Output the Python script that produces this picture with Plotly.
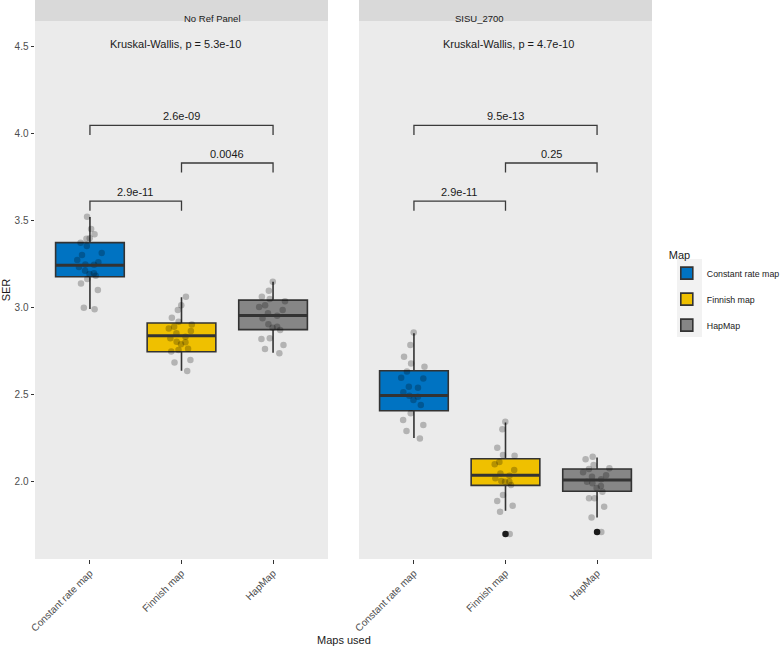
import plotly.graph_objects as go

# ---------------- data ----------------
categories = ["Constant rate map", "Finnish map", "HapMap"]
panels = ["No Ref Panel", "SISU_2700"]
fill_colors = ["#0073C2", "#EFC000", "#868686"]

# box statistics per panel (order = categories)
noref_lower = [2.989, 2.634, 2.737]
noref_q1 = [3.174, 2.743, 2.870]
noref_median = [3.240, 2.835, 2.952]
noref_q3 = [3.370, 2.908, 3.040]
noref_upper = [3.517, 3.056, 3.145]

sisu_lower = [2.247, 1.829, 1.791]
sisu_q1 = [2.404, 1.975, 1.941]
sisu_median = [2.492, 2.033, 2.006]
sisu_q3 = [2.634, 2.128, 2.069]
sisu_upper = [2.849, 2.337, 2.136]

sisu_outlier_cat = [2, 3]
sisu_outlier_val = [1.695, 1.707]

# individual SER observations (read from the jittered points)
noref_const = [3.519, 3.448, 3.418, 3.395, 3.392, 3.351, 3.299, 3.257, 3.245, 3.243, 3.209, 3.194,
               3.190, 3.161, 3.136, 3.098, 2.996, 2.987, 3.27, 3.23, 3.31, 3.18, 3.37]
noref_finn = [3.059, 3.011, 2.983, 2.939, 2.916, 2.887, 2.877, 2.862, 2.820, 2.801, 2.797, 2.786,
              2.753, 2.744, 2.695, 2.682, 2.632, 2.85, 2.90, 2.83, 2.76]
noref_hap = [3.145, 3.094, 3.059, 3.046, 3.034, 3.011, 2.983, 2.964, 2.935, 2.901, 2.887, 2.881,
             2.868, 2.820, 2.816, 2.782, 2.759, 2.734, 2.95, 3.00]
sisu_const = [2.854, 2.782, 2.715, 2.676, 2.657, 2.594, 2.590, 2.542, 2.536, 2.490, 2.485, 2.466,
              2.437, 2.389, 2.351, 2.322, 2.287, 2.245, 2.63, 2.51]
sisu_finn = [2.341, 2.297, 2.191, 2.149, 2.146, 2.096, 2.063, 2.044, 2.016, 1.996, 1.996, 1.977,
             1.920, 1.885, 1.858, 1.824, 1.695, 2.03, 2.11, 2.00]
sisu_hap = [2.140, 2.126, 2.092, 2.069, 2.073, 2.034, 2.025, 1.996, 1.987, 1.971, 1.939, 1.901,
            1.901, 1.853, 1.791, 1.707, 2.05, 2.01, 1.96]

# pairwise comparisons (category positions), bracket heights and labels
comparisons = [(1, 2), (2, 3), (1, 3)]
bracket_y = [3.609, 3.828, 4.044]
noref_pvals = ["2.9e-11", "0.0046", "2.6e-09"]
sisu_pvals = ["2.9e-11", "0.25", "9.5e-13"]

kw_labels = ["Kruskal-Wallis, p = 5.3e-10", "Kruskal-Wallis, p = 4.7e-10"]
kw_x = [1.936, 2.03]
kw_y = 4.51

y_ticks = [2.0, 2.5, 3.0, 3.5, 4.0, 4.5]
y_range = [1.552, 4.644]

# ---------------- figure ----------------
FONT = "Liberation Sans, Arial, Helvetica, sans-serif"
W, H = 780, 647
ML, MR, MT, MB = 35, 128, 0, 88
plot_w = W - ML - MR
plot_h = H - MT - MB
strip_h = 21
left_dom = [0, 293 / plot_w]
right_dom = [(359 - ML) / plot_w, 1]
y_top = 1 - strip_h / plot_h

fig = go.Figure()

panel_stats = [
    (noref_lower, noref_q1, noref_median, noref_q3, noref_upper),
    (sisu_lower, sisu_q1, sisu_median, sisu_q3, sisu_upper),
]
panel_points = [[noref_const, noref_finn, noref_hap], [sisu_const, sisu_finn, sisu_hap]]
panel_pvals = [noref_pvals, sisu_pvals]
axes = [("x", "y"), ("x2", "y2")]
BOXW = 0.75
LINE = "#333333"

for p, (xa, ya) in enumerate(axes):
    lo, q1, med, q3, up = panel_stats[p]
    for i, cat in enumerate(categories):
        pos = i + 1
        fig.add_trace(go.Box(
            x=[pos], q1=[q1[i]], median=[med[i]], q3=[q3[i]],
            lowerfence=[lo[i]], upperfence=[up[i]],
            name=cat, legendgroup=cat, showlegend=(p == 0),
            fillcolor=fill_colors[i], line=dict(color=LINE, width=1.6),
            whiskerwidth=0, width=BOXW, xaxis=xa, yaxis=ya, hoverinfo="skip",
        ))
        # thicker median line
        fig.add_trace(go.Scatter(
            x=[pos - BOXW / 2, pos + BOXW / 2], y=[med[i], med[i]], mode="lines",
            line=dict(color=LINE, width=3), showlegend=False, hoverinfo="skip",
            xaxis=xa, yaxis=ya,
        ))

# outliers (right panel)
fig.add_trace(go.Scatter(
    x=sisu_outlier_cat, y=sisu_outlier_val, mode="markers",
    marker=dict(color="#1a1a1a", size=6.5), showlegend=False, hoverinfo="skip",
    xaxis="x2", yaxis="y2",
))

# jittered observations
for p, (xa, ya) in enumerate(axes):
    for i, cat in enumerate(categories):
        vals = panel_points[p][i]
        fig.add_trace(go.Box(
            x=[i + 1] * len(vals), y=vals, boxpoints="all", jitter=0.45, pointpos=0,
            fillcolor="rgba(0,0,0,0)", line=dict(color="rgba(0,0,0,0)", width=0),
            marker=dict(color="rgba(0,0,0,0.24)", size=6.5, line=dict(width=0)),
            width=BOXW, showlegend=False, hoverinfo="skip", xaxis=xa, yaxis=ya,
        ))

annotations = []
# brackets and p-values
for p, (xa, ya) in enumerate(axes):
    for (a, b), yb, lab in zip(comparisons, bracket_y, panel_pvals[p]):
        fig.add_trace(go.Scatter(
            x=[a, a, b, b], y=[yb - 0.055, yb, yb, yb - 0.055], mode="lines",
            line=dict(color="#3a3a3a", width=1.3), showlegend=False, hoverinfo="skip",
            xaxis=xa, yaxis=ya,
        ))
        annotations.append(dict(
            x=(a + b) / 2, y=yb, xref=xa, yref=ya, text=lab, showarrow=False,
            yanchor="bottom", yshift=1, font=dict(family=FONT, size=11, color="#1a1a1a"),
        ))
    annotations.append(dict(
        x=kw_x[p], y=kw_y, xref=xa, yref=ya, text=kw_labels[p], showarrow=False,
        font=dict(family=FONT, size=11, color="#1a1a1a"),
    ))

# strips
shapes = []
for p, dom in enumerate([left_dom, right_dom]):
    shapes.append(dict(type="rect", xref="paper", yref="paper", x0=dom[0], x1=dom[1],
                       y0=y_top, y1=1, fillcolor="#D9D9D9", line=dict(width=0), layer="below"))
    annotations.append(dict(x=(dom[0] + dom[1]) / 2, y=(y_top + 1) / 2, xref="paper", yref="paper",
                            text=panels[p], showarrow=False,
                            font=dict(family=FONT, size=9.5, color="#1a1a1a")))

# legend key background
shapes.append(dict(type="rect", xref="paper", yref="paper",
                   x0=(677 - ML) / plot_w, x1=(702 - ML) / plot_w,
                   y0=1 - 337 / plot_h, y1=1 - 259 / plot_h,
                   fillcolor="#F2F2F2", line=dict(width=0), layer="below"))

# x axis title
annotations.append(dict(x=0.5, y=-(640 - plot_h) / plot_h, xref="paper", yref="paper",
                        text="Maps used", showarrow=False, yanchor="middle",
                        font=dict(family=FONT, size=11, color="#1a1a1a")))

xaxis_common = dict(
    range=[0.4, 3.6], tickmode="array", tickvals=[1, 2, 3], ticktext=categories,
    tickangle=-45, ticks="outside", ticklen=3.5, tickcolor="#333333", tickwidth=1.1,
    showgrid=False, zeroline=False, showline=False, automargin=False,
    tickfont=dict(family=FONT, size=10, color="#4d4d4d"),
)

fig.update_layout(
    width=W, height=H,
    margin=dict(l=ML, r=MR, t=MT, b=MB, autoexpand=False),
    paper_bgcolor="white", plot_bgcolor="#EBEBEB",
    boxmode="overlay",
    xaxis=dict(domain=left_dom, anchor="y", **xaxis_common),
    xaxis2=dict(domain=right_dom, anchor="y2", **xaxis_common),
    yaxis=dict(domain=[0, y_top], range=y_range, tickvals=y_ticks, anchor="x",
               ticktext=[f"{v:.1f}" for v in y_ticks], ticks="outside", ticklen=3.5,
               tickcolor="#333333", tickwidth=1.1, showgrid=False, zeroline=False,
               automargin=False,
               tickfont=dict(family=FONT, size=10, color="#4d4d4d"),
               title=dict(text="SER", font=dict(family=FONT, size=11, color="#1a1a1a"), standoff=3)),
    yaxis2=dict(domain=[0, y_top], range=y_range, matches="y", showticklabels=False,
                ticks="", showgrid=False, zeroline=False, anchor="x2", automargin=False),
    legend=dict(x=1.024, y=0.563, xanchor="left", yanchor="top",
                title=dict(text="Map", font=dict(family=FONT, size=11, color="#1a1a1a")),
                font=dict(family=FONT, size=8.8, color="#1a1a1a"),
                itemwidth=30, tracegroupgap=7, bgcolor="rgba(0,0,0,0)"),
    shapes=shapes, annotations=annotations,
    showlegend=True,
)

fig.write_html("out.html", config={"displayModeBar": False},
               post_script="document.body.style.margin='0';document.body.style.overflow='hidden';")
